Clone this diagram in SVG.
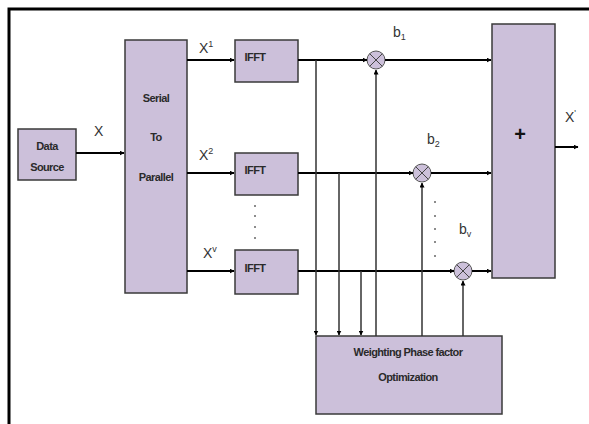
<svg xmlns="http://www.w3.org/2000/svg" width="589" height="424" viewBox="0 0 589 424">
<defs>
<marker id="ah" viewBox="0 0 10 10" refX="9" refY="5" markerWidth="5" markerHeight="5" orient="auto" markerUnits="userSpaceOnUse">
<path d="M0,0 L10,5 L0,10 z" fill="#000"/>
</marker>
</defs>
<style>
.box{fill:#ccc0da;stroke:#3a3a3a;stroke-width:1.5}
.mul{fill:#ccc0da;stroke:#555;stroke-width:1}
.t{font-family:"Liberation Sans",Arial,sans-serif;font-size:11px;font-weight:bold;fill:#2a2a2a;text-anchor:middle;letter-spacing:-0.6px}
.lbl{font-family:"Liberation Sans",Arial,sans-serif;font-size:14px;fill:#333}
.sub{font-size:9px}
.c{fill:none;stroke:#000;stroke-width:2}
.v{fill:none;stroke:#333;stroke-width:1.5}
.dot{fill:#666}
</style>
<rect width="589" height="424" fill="#fff"/>
<path d="M9,424 V9 H589" fill="none" stroke="#000" stroke-width="3"/>

<g id="data-source"><rect class="box" x="18" y="129" width="58" height="51"/>
<text class="t" x="47" y="150">Data</text><text class="t" x="47" y="171">Source</text></g>

<g id="serial-to-parallel"><rect class="box" x="125" y="40" width="62" height="253"/>
<text class="t" x="156" y="102">Serial</text><text class="t" x="156" y="141">To</text><text class="t" x="156" y="181">Parallel</text></g>

<g id="ifft1"><rect class="box" x="235" y="40" width="63" height="42"/><text class="t" x="255" y="61">IFFT</text></g>
<g id="ifft2"><rect class="box" x="235" y="153" width="63" height="42"/><text class="t" x="255" y="174">IFFT</text></g>
<g id="ifft3"><rect class="box" x="235" y="250" width="63" height="44"/><text class="t" x="255" y="272">IFFT</text></g>

<g id="sum"><rect class="box" x="492" y="24" width="63" height="254"/>
<text x="520" y="141" font-family="Liberation Sans,Arial,sans-serif" font-size="20" font-weight="bold" fill="#111" text-anchor="middle">+</text></g>

<g id="weighting"><rect class="box" x="316" y="336" width="186" height="78"/>
<text class="t" x="408" y="356">Weighting Phase factor</text><text class="t" x="408" y="381">Optimization</text></g>

<g id="mul1"><circle class="mul" cx="376" cy="60" r="9"/><path d="M369.6,53.6 L382.4,66.4 M382.4,53.6 L369.6,66.4" stroke="#444" stroke-width="1"/></g>
<g id="mul2"><circle class="mul" cx="422" cy="173" r="9"/><path d="M415.6,166.6 L428.4,179.4 M428.4,166.6 L415.6,179.4" stroke="#444" stroke-width="1"/></g>
<g id="mul3"><circle class="mul" cx="463" cy="271" r="9"/><path d="M456.6,264.6 L469.4,277.4 M469.4,264.6 L456.6,277.4" stroke="#444" stroke-width="1"/></g>

<g id="connectors">
<line class="c" x1="76" y1="153" x2="124" y2="153" marker-end="url(#ah)"/>
<line class="c" x1="187" y1="60" x2="234" y2="60" marker-end="url(#ah)"/>
<line class="c" x1="187" y1="173" x2="234" y2="173" marker-end="url(#ah)"/>
<line class="c" x1="187" y1="271" x2="234" y2="271" marker-end="url(#ah)"/>
<line class="c" x1="298" y1="60" x2="367" y2="60" marker-end="url(#ah)"/>
<line class="c" x1="385" y1="60" x2="491" y2="60" marker-end="url(#ah)"/>
<line class="c" x1="298" y1="173" x2="413" y2="173" marker-end="url(#ah)"/>
<line class="c" x1="431" y1="173" x2="491" y2="173" marker-end="url(#ah)"/>
<line class="c" x1="298" y1="271" x2="454" y2="271" marker-end="url(#ah)"/>
<line class="c" x1="472" y1="271" x2="491" y2="271" marker-end="url(#ah)"/>
<line class="c" x1="555" y1="147" x2="578" y2="147" marker-end="url(#ah)"/>
<line class="v" x1="316" y1="60" x2="316" y2="335" marker-end="url(#ah)"/>
<line class="v" x1="339" y1="173" x2="339" y2="335" marker-end="url(#ah)"/>
<line class="v" x1="361" y1="271" x2="361" y2="335" marker-end="url(#ah)"/>
<line class="v" x1="376" y1="336" x2="376" y2="70" marker-end="url(#ah)"/>
<line class="v" x1="422" y1="336" x2="422" y2="183" marker-end="url(#ah)"/>
<line class="v" x1="463" y1="336" x2="463" y2="281" marker-end="url(#ah)"/>
</g>

<circle class="dot" cx="255" cy="206" r="1"/><circle class="dot" cx="255" cy="216" r="1"/><circle class="dot" cx="255" cy="227" r="1"/><circle class="dot" cx="255" cy="238" r="1"/>
<circle class="dot" cx="435" cy="202" r="1"/><circle class="dot" cx="435" cy="216" r="1"/><circle class="dot" cx="435" cy="229" r="1"/><circle class="dot" cx="435" cy="242" r="1"/><circle class="dot" cx="435" cy="256" r="1"/>

<text class="lbl" x="94" y="136">X</text>
<text class="lbl" x="199" y="53">X<tspan class="sub" dy="-6">1</tspan></text>
<text class="lbl" x="199" y="160">X<tspan class="sub" dy="-6">2</tspan></text>
<text class="lbl" x="203" y="258">X<tspan class="sub" dy="-6">v</tspan></text>
<text class="lbl" x="565" y="122">X<tspan class="sub" dy="-6">'</tspan></text>
<text class="lbl" x="393" y="37">b<tspan class="sub" dy="3">1</tspan></text>
<text class="lbl" x="427" y="144">b<tspan class="sub" dy="3">2</tspan></text>
<text class="lbl" x="459" y="234">b<tspan class="sub" dy="3">v</tspan></text>
</svg>
